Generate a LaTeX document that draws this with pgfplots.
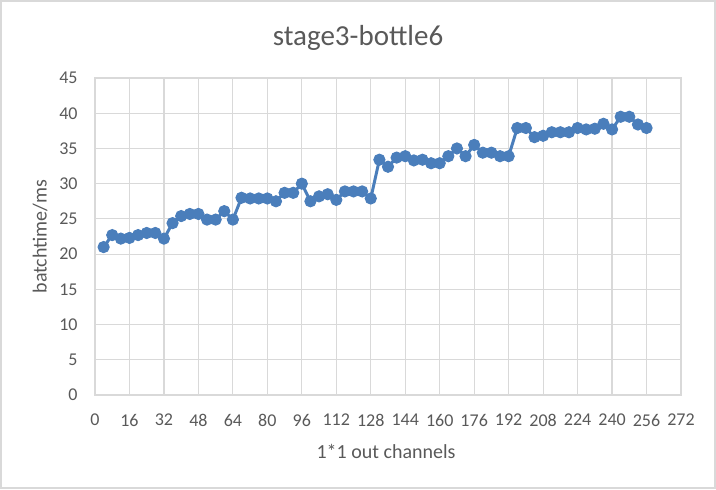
\documentclass[border=0pt]{standalone}
\usepackage{fontspec}
\setmainfont{Carlito}
\usepackage{pgfplots}
\pgfplotsset{compat=1.18}
\definecolor{excelblue}{HTML}{4A7EBB}
\definecolor{gridgray}{HTML}{D9D9D9}
\definecolor{txtgray}{HTML}{595959}
\begin{document}
\begin{tikzpicture}
\useasboundingbox (0,0) rectangle (358pt,244.5pt);
\draw[gridgray, line width=0.6pt] (0.5pt,0.5pt) rectangle (357.5pt,244pt);
\node[font=\fontsize{14.5pt}{16pt}\selectfont, text=txtgray] at (179pt,225.5pt) {stage3-bottle6};
\node[font=\fontsize{10pt}{12pt}\selectfont, text=txtgray] at (193pt,19pt) {1*1 out channels};
\node[font=\fontsize{10pt}{12pt}\selectfont, text=txtgray, rotate=90] at (20pt,126.25pt) {batchtime/ms};
\begin{axis}[
  at={(47.5pt,47pt)}, anchor=south west,
  scale only axis, width=293pt, height=158.5pt,
  xmin=0, xmax=272, ymin=0, ymax=45,
  xtick={0,16,...,272}, ytick={0,5,...,45},
  grid=major, major grid style={gridgray, line width=0.6pt},
  axis line style={gridgray, line width=0.6pt},
  major tick length=0pt,
  tick label style={font=\fontsize{9pt}{11pt}\selectfont, text=txtgray},
  /pgf/number format/assume math mode=true,
  xticklabel style={anchor=center, yshift=-12.5pt},
  yticklabel style={anchor=east, inner sep=0pt, xshift=-8.5pt},
  clip=false,
]
\addplot[color=excelblue, line width=1.5pt, mark=*, mark size=2.8pt, mark options={fill=excelblue, draw=excelblue, line width=0.5pt}] table {
x y
4 21.0
8 22.7
12 22.2
16 22.3
20 22.7
24 23.0
28 23.0
32 22.2
36 24.4
40 25.4
44 25.7
48 25.7
52 24.9
56 24.9
60 26.1
64 24.9
68 28.0
72 27.9
76 27.9
80 27.9
84 27.5
88 28.7
92 28.7
96 30.0
100 27.5
104 28.2
108 28.5
112 27.7
116 28.9
120 28.9
124 28.9
128 27.9
132 33.4
136 32.4
140 33.7
144 33.9
148 33.3
152 33.4
156 32.9
160 32.9
164 33.9
168 35.0
172 33.9
176 35.5
180 34.4
184 34.4
188 33.9
192 33.9
196 37.9
200 37.9
204 36.6
208 36.8
212 37.3
216 37.3
220 37.3
224 37.9
228 37.7
232 37.8
236 38.5
240 37.7
244 39.5
248 39.5
252 38.4
256 37.9
};
\end{axis}
\end{tikzpicture}
\end{document}
